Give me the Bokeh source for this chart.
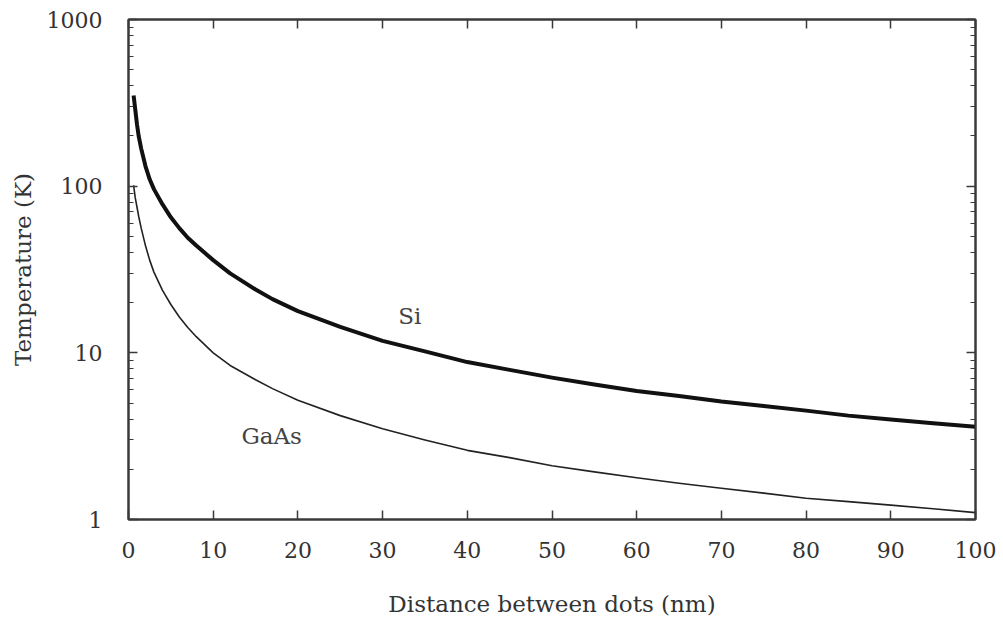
from bokeh.plotting import figure
from bokeh.models import (FixedTicker, LogAxis, LinearAxis, PrintfTickFormatter,
                          Label, Range1d)
from bokeh.embed import file_html
from bokeh.resources import INLINE

# ---- data ----
si_x = [0.6, 0.65, 1.0, 1.2, 1.5, 2.0, 2.5, 3.0, 4.0, 5.0, 6.0, 7.0, 8.0,
        10.0, 12.0, 15.0, 17.0, 20.0, 25.0, 30.0, 35.0, 40.0, 45.0, 50.0,
        55.0, 60.0, 65.0, 70.0, 75.0, 80.0, 85.0, 90.0, 95.0, 100.0]
si_y = [350, 335, 235, 200, 168, 132, 110, 96, 78, 65, 56, 49, 44,
        36, 30, 24, 21, 17.8, 14.3, 11.8, 10.2, 8.8, 7.9, 7.1,
        6.45, 5.9, 5.5, 5.1, 4.8, 4.5, 4.2, 3.98, 3.78, 3.6]

gaas_x = [0.6, 0.8, 1.0, 1.2, 1.5, 2.0, 2.5, 3.0, 4.0, 5.0, 6.0, 7.0, 8.0,
          10.0, 12.0, 15.0, 17.0, 20.0, 25.0, 30.0, 35.0, 40.0, 45.0, 50.0,
          55.0, 60.0, 65.0, 70.0, 75.0, 80.0, 85.0, 90.0, 95.0, 100.0]
gaas_y = [101, 85, 75, 66, 56, 44, 36, 30.5, 23.8, 19.5, 16.4, 14.2, 12.5,
          10, 8.4, 6.9, 6.1, 5.2, 4.2, 3.5, 3.0, 2.6, 2.35, 2.1,
          1.93, 1.78, 1.65, 1.54, 1.44, 1.34, 1.28, 1.22, 1.16, 1.1]

x_ticks = [0, 10, 20, 30, 40, 50, 60, 70, 80, 90, 100]
y_ticks = [1, 10, 100, 1000]
y_minor = [2, 3, 4, 5, 6, 7, 8, 9, 20, 30, 40, 50, 60, 70, 80, 90,
           200, 300, 400, 500, 600, 700, 800, 900]

series_labels = ["Si", "GaAs"]
label_pos = [(33.2, 16.6), (16.9, 3.15)]

FONT = "DejaVu Serif"
TXT = "#333333"
AX = "#3a3a3a"

p = figure(width=1003, height=621, y_axis_type="log",
           x_range=Range1d(0, 100), y_range=Range1d(1, 1000),
           output_backend="svg", toolbar_location=None,
           min_border_left=128, min_border_right=28,
           min_border_top=19, min_border_bottom=102)
p.background_fill_color = "white"
p.border_fill_color = "white"
p.grid.visible = False
p.outline_line_color = AX
p.outline_line_width = 2

# lines
p.line(si_x, si_y, line_color="#111111", line_width=4, line_join="round")
p.line(gaas_x, gaas_y, line_color="#222222", line_width=1.6, line_join="round")

def style_axis(ax, labels=True):
    ax.axis_line_color = AX
    ax.axis_line_width = 2
    ax.major_tick_in = 9
    ax.major_tick_out = 0
    ax.minor_tick_in = 5
    ax.minor_tick_out = 0
    ax.major_tick_line_color = AX
    ax.minor_tick_line_color = AX
    ax.major_tick_line_width = 1.5
    ax.minor_tick_line_width = 1.2
    ax.major_label_text_font = FONT
    if labels:
        ax.major_label_text_font_size = "22px"
        ax.major_label_text_color = TXT
    else:
        ax.major_label_text_font_size = "6px"
        ax.major_label_text_alpha = 0
        ax.major_label_standoff = 0
    ax.axis_label_text_font = FONT
    ax.axis_label_text_font_size = "23px"
    ax.axis_label_text_font_style = "normal"
    ax.axis_label_text_color = TXT

# bottom x axis
xa = p.xaxis[0]
xa.ticker = FixedTicker(ticks=x_ticks)
xa.axis_label = "Distance between dots (nm)"
style_axis(xa)
xa.major_label_standoff = 22
xa.axis_label_standoff = 30

# left y axis
ya = p.yaxis[0]
ya.ticker = FixedTicker(ticks=y_ticks, minor_ticks=y_minor)
ya.formatter = PrintfTickFormatter(format="%d")
ya.axis_label = "Temperature (K)"
style_axis(ya)
ya.major_label_standoff = 26
ya.axis_label_standoff = 8

# mirrored axes
top = LinearAxis(ticker=FixedTicker(ticks=x_ticks))
style_axis(top, labels=False)
p.add_layout(top, "above")
right = LogAxis(ticker=FixedTicker(ticks=y_ticks, minor_ticks=y_minor))
style_axis(right, labels=False)
p.add_layout(right, "right")

for name, (lx, ly) in zip(series_labels, label_pos):
    p.add_layout(Label(x=lx, y=ly, text=name, text_font=FONT,
                       text_font_size="23px", text_color="#444444",
                       text_align="center", text_baseline="middle"))

open("out.html", "w").write(file_html(p, INLINE))
